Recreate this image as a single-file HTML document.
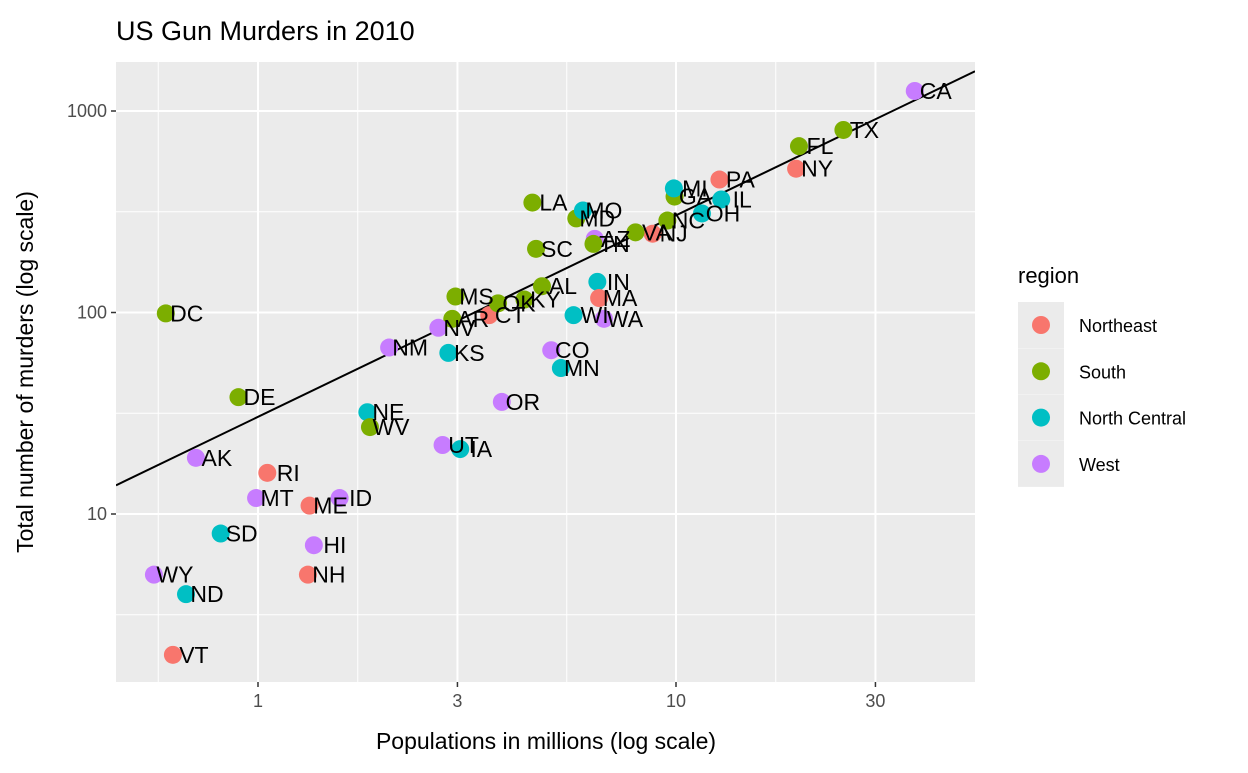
<!DOCTYPE html>
<html><head><meta charset="utf-8"><style>
body{margin:0;background:#fff;}
svg text{font-family:"Liberation Sans",Arial,sans-serif;}
</style></head><body>
<svg id="chart" width="1248" height="768" xmlns="http://www.w3.org/2000/svg">
<text x="116" y="40" font-size="27" fill="#000">US Gun Murders in 2010</text>
<rect x="116" y="62" width="859" height="620" fill="#ebebeb"/>
<g id="grid"></g>
<g id="marks"></g>
<g id="axes"></g>
<text x="546" y="749" font-size="23" text-anchor="middle" fill="#000">Populations in millions (log scale)</text>
<text transform="translate(33,372) rotate(-90)" font-size="23" text-anchor="middle" fill="#000">Total number of murders (log scale)</text>
<g id="legend"></g>
</svg>
<script>
const abbs=["AL","AK","AZ","AR","CA","CO","CT","DE","DC","FL","GA","HI","ID","IL","IN","IA","KS","KY","LA","ME","MD","MA","MI","MN","MS","MO","MT","NE","NV","NH","NJ","NM","NY","NC","ND","OH","OK","OR","PA","RI","SC","SD","TN","TX","UT","VT","VA","WA","WV","WI","WY"];
const regions=["South","West","West","South","West","West","Northeast","South","South","South","South","West","West","North Central","North Central","North Central","North Central","South","South","Northeast","South","Northeast","North Central","North Central","South","North Central","West","North Central","West","Northeast","Northeast","West","Northeast","South","North Central","North Central","South","West","Northeast","Northeast","South","North Central","South","South","West","Northeast","South","West","South","North Central","West"];
const population=[4.779736,0.710231,6.392017,2.915918,37.253956,5.029196,3.574097,0.897934,0.601723,19.687653,9.920000,1.360301,1.567582,12.830632,6.483802,3.046355,2.853118,4.339367,4.533372,1.328361,5.773552,6.547629,9.883640,5.303925,2.967297,5.988927,0.989415,1.826341,2.700551,1.316470,8.791894,2.059179,19.378102,9.535483,0.672591,11.536504,3.751351,3.831074,12.702379,1.052567,4.625364,0.814180,6.346105,25.145561,2.763885,0.625741,8.001024,6.724540,1.852994,5.686986,0.563626];
const totals=[135,19,232,93,1257,65,97,38,99,669,376,7,12,364,142,21,63,116,351,11,293,118,413,53,120,321,12,32,84,5,246,67,517,286,4,310,111,36,457,16,207,8,219,805,22,2,250,93,27,97,5];
const regionNames=["Northeast","South","North Central","West"];
const regionColors=["#F8766D","#7CAE00","#00BFC4","#C77CFF"];
const xTicks=[1,3,10,30];
const yTicks=[10,100,1000];
const NS="http://www.w3.org/2000/svg";
const L=116,R=975,T=62,B=682;
const xs=v=>258+Math.log10(v)*418;
const ys=v=>514-(Math.log10(v)-1)*201.5;
function mk(tag,attrs,parent){const e=document.createElementNS(NS,tag);for(const k in attrs)e.setAttribute(k,attrs[k]);parent.appendChild(e);return e;}
const grid=document.getElementById('grid'),marks=document.getElementById('marks'),axes=document.getElementById('axes'),legend=document.getElementById('legend');
const lx=xTicks.map(Math.log10);
const minorX=[lx[0]-(lx[1]-lx[0])/2];for(let i=0;i<lx.length-1;i++)minorX.push((lx[i]+lx[i+1])/2);
minorX.forEach(m=>{const p=258+m*418;if(p>L&&p<R){const e=mk('line',{x1:p,x2:p,y1:T,y2:B,stroke:'#fff','stroke-width':1},grid);

}});
[0.5,1.5,2.5].forEach(m=>{const p=ys(Math.pow(10,m));const e=mk('line',{x1:L,x2:R,y1:p,y2:p,stroke:'#fff','stroke-width':1},grid);

});
xTicks.forEach(t=>{const p=xs(t);const e=mk('line',{x1:p,x2:p,y1:T,y2:B,stroke:'#fff','stroke-width':2},grid);


const tk=mk('line',{x1:p,x2:p,y1:B,y2:B+5,stroke:'#333','stroke-width':1.5},axes);


const tx=mk('text',{x:p,y:B+25,'font-size':18,'text-anchor':'middle',fill:'#4d4d4d'},axes);tx.textContent=t;

});
yTicks.forEach(t=>{const p=ys(t);const e=mk('line',{x1:L,x2:R,y1:p,y2:p,stroke:'#fff','stroke-width':2},grid);


const tk=mk('line',{x1:L-5,x2:L,y1:p,y2:p,stroke:'#333','stroke-width':1.5},axes);


const tx=mk('text',{x:L-9,y:p+6,'font-size':18,'text-anchor':'end',fill:'#4d4d4d'},axes);tx.textContent=t;

});
const rate=totals.reduce((a,b)=>a+b,0)/population.reduce((a,b)=>a+b,0);
const x0=Math.pow(10,(L-258)/418),x1=Math.pow(10,(R-258)/418);
const ln=mk('line',{x1:L,y1:ys(rate*x0),x2:R,y2:ys(rate*x1),stroke:'#000','stroke-width':2},marks);


const cp=document.createElementNS(NS,'clipPath');cp.id='clip';mk('rect',{x:L,y:T,width:R-L,height:B-T},cp);document.getElementById('chart').prepend(cp);
ln.setAttribute('clip-path','url(#clip)');
population.forEach((p,i)=>{const c=mk('circle',{cx:xs(p),cy:ys(totals[i]),r:9,fill:regionColors[regionNames.indexOf(regions[i])]},marks);

});
population.forEach((p,i)=>{const t=mk('text',{x:xs(p)+21,y:ys(totals[i])+8,'font-size':23,'text-anchor':'middle',fill:'#000'},marks);t.textContent=abbs[i];

});
const lt=mk('text',{x:1018,y:283,'font-size':22,fill:'#000'},legend);lt.textContent='region';


regionNames.forEach((n,i)=>{const y=325+i*46.3;
const bg=mk('rect',{x:1018,y:y-23,width:46,height:46,fill:'#ebebeb'},legend);


const c=mk('circle',{cx:1041,cy:y,r:9,fill:regionColors[i]},legend);


const t=mk('text',{x:1079,y:y+7,'font-size':18,fill:'#000'},legend);t.textContent=n;

});
</script>
</body></html>
